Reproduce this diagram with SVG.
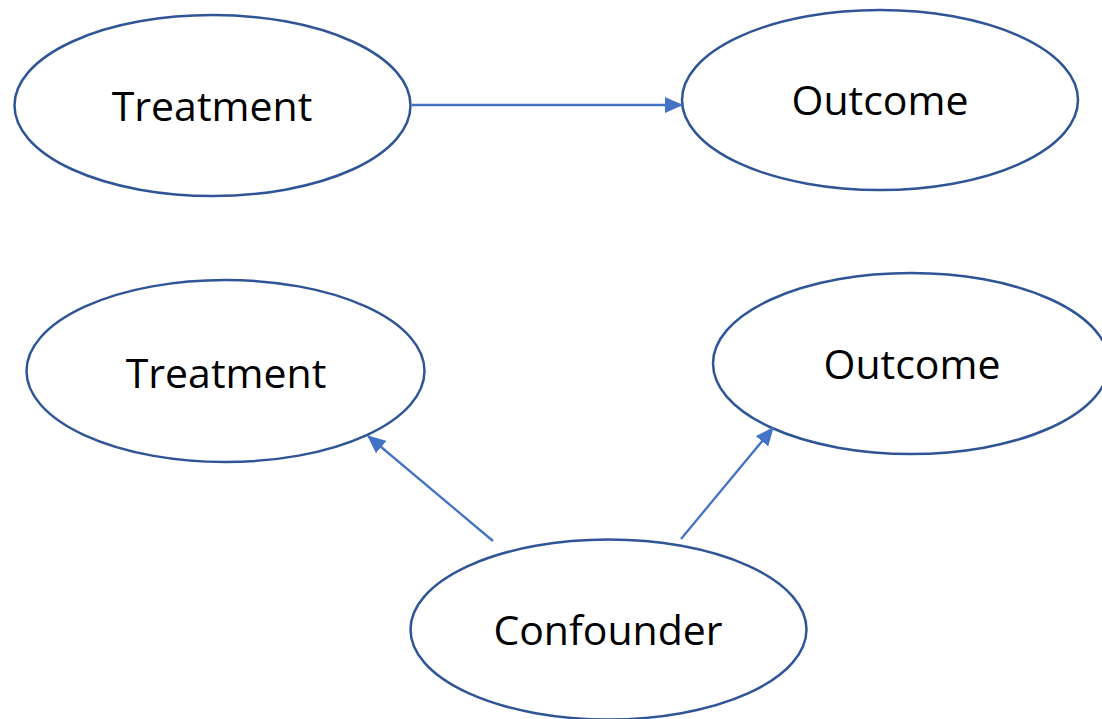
<svg xmlns="http://www.w3.org/2000/svg" width="1102" height="719" viewBox="0 0 1102 719">
<style>
.node ellipse{fill:#fff;stroke:#2F5597;stroke-width:2.5}
.node text{font-family:"Open Sans","Liberation Sans",sans-serif;font-size:41px;fill:#000;text-anchor:middle}
.edge{stroke:#4472C4;stroke-width:2.3;fill:none;marker-end:url(#ah)}
</style>
<defs>
<marker id="ah" markerWidth="8" markerHeight="7" refX="7.5" refY="3.5" orient="auto" markerUnits="strokeWidth">
<path d="M0,0 L8,3.5 L0,7 Z" fill="#4472C4"/>
</marker>
</defs>
<rect width="1102" height="719" fill="#fff"/>
<g id="treatment1" class="node"><ellipse cx="212.5" cy="105.5" rx="198" ry="90.5"/><text x="212" y="121">Treatment</text></g>
<g id="outcome1" class="node"><ellipse cx="880" cy="100" rx="198" ry="90"/><text x="880" y="115">Outcome</text></g>
<g id="treatment2" class="node"><ellipse cx="225.5" cy="371" rx="199" ry="91"/><text x="226" y="388">Treatment</text></g>
<g id="outcome2" class="node"><ellipse cx="911" cy="363.5" rx="198" ry="90.5"/><text x="912" y="379">Outcome</text></g>
<g id="confounder" class="node"><ellipse cx="608.5" cy="629.5" rx="198" ry="90"/><text x="608" y="645">Confounder</text></g>
<g id="connectors">
<line class="edge" x1="412" y1="105" x2="682" y2="105"/>
<line class="edge" x1="493" y1="541" x2="368" y2="436"/>
<line class="edge" x1="681" y1="539" x2="773" y2="428"/>
</g>
</svg>
